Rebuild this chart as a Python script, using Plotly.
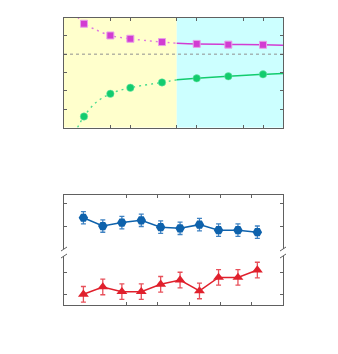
import plotly.graph_objects as go

W, H = 338, 354
OFF = 8  # page body margin

# ---------------- top panel data ----------------
top_x = [0.4, 1, 2, 6, 20, 60, 200]
square_y = [5.66, 5.02, 4.84, 4.66, 4.56, 4.52, 4.51]
circle_y = [0.60, 1.84, 2.17, 2.46, 2.68, 2.79, 2.90]

pink_dot_x = [0.32, 0.4, 0.55, 1, 2, 4, 6, 10]
pink_dot_y = [6.02, 5.66, 5.40, 5.02, 4.84, 4.72, 4.66, 4.60]
pink_solid_x = [10, 20, 60, 200, 400]
pink_solid_y = [4.60, 4.56, 4.53, 4.51, 4.49]

green_dot_x = [0.32, 0.4, 0.6, 1, 2, 6, 10]
green_dot_y = [0.0, 0.60, 1.35, 1.84, 2.17, 2.46, 2.60]
green_solid_x = [10, 20, 60, 200, 400]
green_solid_y = [2.60, 2.68, 2.79, 2.90, 2.95]

reference_level = 4
regime_bounds = [0.2, 10, 400]
top_xticks = [1, 2, 10, 20, 100, 200]
top_yticks = [1, 2, 3, 4, 5]

# ---------------- bottom panel data ----------------
bot_x = [0.62, 1.24, 1.85, 2.47, 3.09, 3.71, 4.33, 4.94, 5.56, 6.18]
blue_y = [1.40, 1.04, 1.19, 1.29, 0.99, 0.94, 1.10, 0.86, 0.86, 0.77]
blue_err = [0.27, 0.27, 0.27, 0.27, 0.27, 0.27, 0.27, 0.27, 0.27, 0.27]
red_y = [1.03, 1.36, 1.15, 1.15, 1.48, 1.67, 1.18, 1.79, 1.79, 2.12]
red_err = [0.35, 0.35, 0.35, 0.35, 0.35, 0.35, 0.35, 0.35, 0.35, 0.35]
bot_xticks = [2, 3, 4, 5, 6]
bot_yticks = [1, 2]


def px(x):
    return (x - OFF) / W


def py(y):
    return 1 - (y - OFF) / H


PINK = "#D23CD2"
GREEN = "#12CC6E"
BLUE = "#0E62AC"
RED = "#E0202C"
FRAME = "#606060"

fig = go.Figure()

# top panel curves
fig.add_trace(go.Scatter(x=pink_dot_x, y=pink_dot_y, mode="lines", line=dict(color="#E07AE0", width=1.4, dash="2px,4px", shape="spline"), xaxis="x", yaxis="y"))
fig.add_trace(go.Scatter(x=pink_solid_x, y=pink_solid_y, mode="lines", line=dict(color=PINK, width=1.5, shape="spline"), xaxis="x", yaxis="y"))
fig.add_trace(go.Scatter(x=green_dot_x, y=green_dot_y, mode="lines", line=dict(color="#4ADB8E", width=1.4, dash="2px,4px", shape="spline"), xaxis="x", yaxis="y"))
fig.add_trace(go.Scatter(x=green_solid_x, y=green_solid_y, mode="lines", line=dict(color=GREEN, width=1.5, shape="spline"), xaxis="x", yaxis="y"))
fig.add_trace(go.Scatter(x=top_x, y=square_y, mode="markers", marker=dict(symbol="square", size=7, color=PINK, line=dict(color="#E8A0E8", width=1)), xaxis="x", yaxis="y"))
fig.add_trace(go.Scatter(x=top_x, y=circle_y, mode="markers", marker=dict(symbol="circle", size=7.5, color=GREEN, line=dict(color="#7EE6B0", width=0.5)), xaxis="x", yaxis="y"))

# bottom panel
fig.add_trace(go.Scatter(x=bot_x, y=blue_y, mode="lines+markers",
                         error_y=dict(type="data", array=blue_err, color="#3F82C2", thickness=1.3, width=2.5),
                         line=dict(color=BLUE, width=1.5),
                         marker=dict(symbol="hexagon2", size=9.5, color=BLUE, line=dict(width=0)),
                         xaxis="x2", yaxis="y2"))
fig.add_trace(go.Scatter(x=bot_x, y=red_y, mode="lines+markers",
                         error_y=dict(type="data", array=red_err, color="#E8505A", thickness=1.3, width=2.5),
                         line=dict(color=RED, width=1.5),
                         marker=dict(symbol="triangle-up", size=9.5, color=RED, line=dict(width=0)),
                         xaxis="x3", yaxis="y3"))

shapes = [
    dict(type="rect", xref="x", yref="y domain", x0=regime_bounds[0], x1=regime_bounds[1], y0=0, y1=1,
         fillcolor="#FFFFCC", line=dict(width=0), layer="below"),
    dict(type="rect", xref="x", yref="y domain", x0=regime_bounds[1], x1=regime_bounds[2], y0=0, y1=1,
         fillcolor="#CCFFFF", line=dict(width=0), layer="below"),
    dict(type="line", xref="x domain", yref="y", x0=0, x1=1, y0=reference_level, y1=reference_level,
         line=dict(color="#909090", width=1, dash="dot"), layer="below"),
]

# axis break marks (bottom panel)
for xb in (64, 283):
    for yb in (249, 256):
        shapes.append(dict(type="line", xref="paper", yref="paper",
                           x0=px(xb - 3), y0=py(yb + 2), x1=px(xb + 3), y1=py(yb - 2),
                           line=dict(color=FRAME, width=1)))

axis_common = dict(showline=True, linecolor=FRAME, linewidth=1, ticks="inside", ticklen=3,
                   tickcolor=FRAME, showticklabels=False, showgrid=False, zeroline=False)

fig.update_layout(
    width=W, height=H, margin=dict(l=0, r=0, t=0, b=0),
    paper_bgcolor="white", plot_bgcolor="white", showlegend=False,
    xaxis=dict(type="log", range=[-0.699, 2.602], domain=[px(64), px(283)], anchor="y",
               tickvals=top_xticks, mirror="ticks", **axis_common),
    yaxis=dict(range=[0, 6], domain=[py(127.5), py(17.5)], anchor="x",
               tickvals=top_yticks, mirror="ticks", **axis_common),
    xaxis2=dict(range=[0, 7], domain=[px(64), px(283)], anchor="y2", side="top",
                tickvals=bot_xticks, **axis_common),
    yaxis2=dict(range=[0.04, 2.39], domain=[py(249), py(195)], anchor="x2",
                tickvals=bot_yticks, mirror="ticks", **axis_common),
    xaxis3=dict(range=[0, 7], domain=[px(64), px(283)], anchor="y3", side="bottom",
                tickvals=bot_xticks, **axis_common),
    yaxis3=dict(range=[0.55, 2.75], domain=[py(305), py(256)], anchor="x3",
                tickvals=bot_yticks, mirror="ticks", **axis_common),
    shapes=shapes,
)

fig.write_html("out.html")
